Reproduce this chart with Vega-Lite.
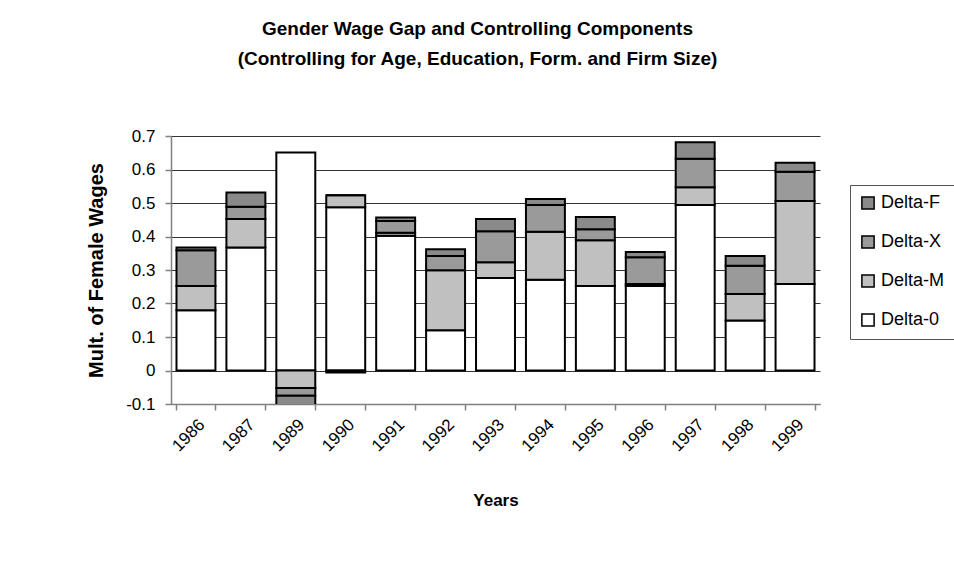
{
  "$schema": "https://vega.github.io/schema/vega-lite/v6.json",
  "autosize": "none",
  "width": 649,
  "height": 268,
  "padding": {"left": 171, "top": 136, "right": 134, "bottom": 157},
  "background": "white",
  "config": {"font": "Liberation Sans", "view": {"stroke": null}},
  "title": {
    "text": ["Gender Wage Gap and Controlling Components", "(Controlling for Age, Education, Form. and Firm Size)"],
    "anchor": "middle",
    "frame": "group",
    "dx": -18,
    "offset": 58,
    "fontSize": 19,
    "fontWeight": "bold",
    "lineHeight": 30,
    "color": "black"
  },
  "data": {
    "values": [
      {"year": "1986", "c": "Delta-0", "v": 0.18}, {"year": "1986", "c": "Delta-M", "v": 0.072}, {"year": "1986", "c": "Delta-X", "v": 0.107}, {"year": "1986", "c": "Delta-F", "v": 0.008},
      {"year": "1987", "c": "Delta-0", "v": 0.367}, {"year": "1987", "c": "Delta-M", "v": 0.085}, {"year": "1987", "c": "Delta-X", "v": 0.037}, {"year": "1987", "c": "Delta-F", "v": 0.042},
      {"year": "1989", "c": "Delta-0", "v": 0.651}, {"year": "1989", "c": "Delta-M", "v": -0.052}, {"year": "1989", "c": "Delta-X", "v": -0.023}, {"year": "1989", "c": "Delta-F", "v": -0.03},
      {"year": "1990", "c": "Delta-0", "v": 0.487}, {"year": "1990", "c": "Delta-M", "v": 0.036}, {"year": "1990", "c": "Delta-X", "v": -0.006}, {"year": "1990", "c": "Delta-F", "v": 0},
      {"year": "1991", "c": "Delta-0", "v": 0.402}, {"year": "1991", "c": "Delta-M", "v": 0.009}, {"year": "1991", "c": "Delta-X", "v": 0.035}, {"year": "1991", "c": "Delta-F", "v": 0.011},
      {"year": "1992", "c": "Delta-0", "v": 0.12}, {"year": "1992", "c": "Delta-M", "v": 0.179}, {"year": "1992", "c": "Delta-X", "v": 0.043}, {"year": "1992", "c": "Delta-F", "v": 0.02},
      {"year": "1993", "c": "Delta-0", "v": 0.276}, {"year": "1993", "c": "Delta-M", "v": 0.047}, {"year": "1993", "c": "Delta-X", "v": 0.093}, {"year": "1993", "c": "Delta-F", "v": 0.036},
      {"year": "1994", "c": "Delta-0", "v": 0.271}, {"year": "1994", "c": "Delta-M", "v": 0.143}, {"year": "1994", "c": "Delta-X", "v": 0.08}, {"year": "1994", "c": "Delta-F", "v": 0.018},
      {"year": "1995", "c": "Delta-0", "v": 0.252}, {"year": "1995", "c": "Delta-M", "v": 0.137}, {"year": "1995", "c": "Delta-X", "v": 0.033}, {"year": "1995", "c": "Delta-F", "v": 0.036},
      {"year": "1996", "c": "Delta-0", "v": 0.252}, {"year": "1996", "c": "Delta-M", "v": 0.006}, {"year": "1996", "c": "Delta-X", "v": 0.08}, {"year": "1996", "c": "Delta-F", "v": 0.016},
      {"year": "1997", "c": "Delta-0", "v": 0.494}, {"year": "1997", "c": "Delta-M", "v": 0.053}, {"year": "1997", "c": "Delta-X", "v": 0.085}, {"year": "1997", "c": "Delta-F", "v": 0.049},
      {"year": "1998", "c": "Delta-0", "v": 0.149}, {"year": "1998", "c": "Delta-M", "v": 0.079}, {"year": "1998", "c": "Delta-X", "v": 0.085}, {"year": "1998", "c": "Delta-F", "v": 0.029},
      {"year": "1999", "c": "Delta-0", "v": 0.258}, {"year": "1999", "c": "Delta-M", "v": 0.248}, {"year": "1999", "c": "Delta-X", "v": 0.087}, {"year": "1999", "c": "Delta-F", "v": 0.027}
    ]
  },
  "transform": [
    {"calculate": "indexof(['Delta-0','Delta-M','Delta-X','Delta-F'], datum.c)", "as": "ord"}
  ],
  "mark": {"type": "bar", "stroke": "black", "strokeWidth": 2, "clip": true},
  "encoding": {
    "x": {
      "field": "year",
      "type": "ordinal",
      "scale": {"paddingInner": 0.22, "paddingOuter": 0.11},
      "axis": {
        "title": "Years",
        "titleFontSize": 17,
        "titleFontWeight": "bold",
        "titleColor": "black",
        "titlePadding": 38,
        "labelAngle": -45,
        "labelFontSize": 17,
        "labelColor": "black",
        "labelPadding": 6,
        "tickBand": "extent",
        "tickSize": 6,
        "tickColor": "#808080",
        "domainColor": "#808080",
        "domainWidth": 1.5,
        "tickWidth": 1.5,
        "grid": false
      }
    },
    "y": {
      "field": "v",
      "type": "quantitative",
      "stack": "zero",
      "scale": {"domain": [-0.1, 0.7], "nice": false, "zero": false},
      "axis": {
        "title": "Mult. of Female Wages",
        "titleFontSize": 20,
        "titleFontWeight": "bold",
        "titleColor": "black",
        "titlePadding": 19,
        "values": [-0.1, 0, 0.1, 0.2, 0.3, 0.4, 0.5, 0.6, 0.7],
        "labelExpr": "toString(round(datum.value*10)/10)",
        "labelFontSize": 17,
        "labelColor": "black",
        "labelPadding": 10,
        "tickSize": 6,
        "tickColor": "#808080",
        "domainColor": "#808080",
        "domainWidth": 1.5,
        "tickWidth": 1.5,
        "grid": true,
        "gridColor": "#333333",
        "gridWidth": 1.2
      }
    },
    "color": {
      "field": "c",
      "type": "nominal",
      "scale": {
        "domain": ["Delta-F", "Delta-X", "Delta-M", "Delta-0"],
        "range": ["#8a8a8a", "#9a9a9a", "#c0c0c0", "#ffffff"]
      },
      "legend": {
        "title": null,
        "orient": "none",
        "legendX": 679,
        "legendY": 49,
        "symbolType": "square",
        "symbolSize": 150,
        "symbolStrokeColor": "black",
        "symbolStrokeWidth": 1.5,
        "labelFontSize": 18,
        "labelColor": "black",
        "labelOffset": 4,
        "rowPadding": 19,
        "padding": 9,
        "strokeColor": "#555555",
        "fillColor": "white"
      }
    },
    "order": {"field": "ord", "type": "quantitative"}
  }
}
